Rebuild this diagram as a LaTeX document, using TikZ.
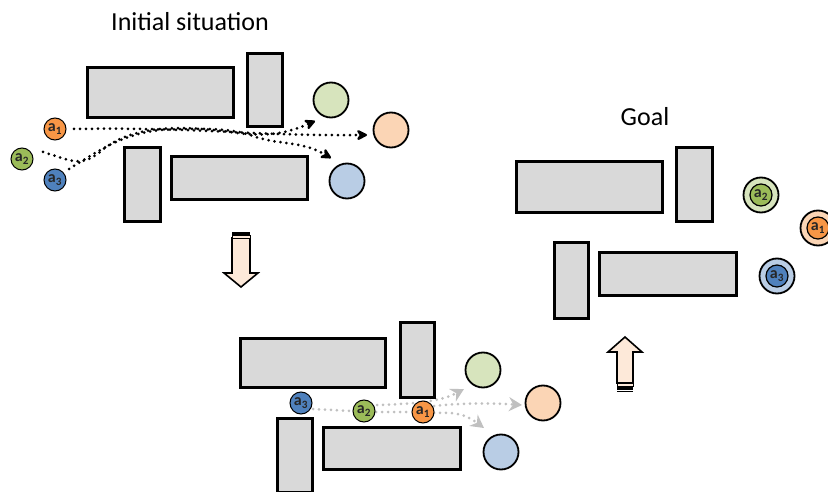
\documentclass[tikz,border=0pt]{standalone}
\usepackage{fontspec}
\setmainfont{Carlito}
\usetikzlibrary{arrows.meta}
\definecolor{boxgray}{HTML}{D9D9D9}
\definecolor{agorange}{HTML}{F79646}
\definecolor{aggreen}{HTML}{9BBB59}
\definecolor{agblue}{HTML}{4F81BD}
\definecolor{golorange}{HTML}{FBD5B5}
\definecolor{golgreen}{HTML}{D7E4BD}
\definecolor{golblue}{HTML}{B9CDE5}
\definecolor{peach}{HTML}{FDE9D9}
\definecolor{pathgray}{HTML}{C0C0C0}
\tikzset{
  obst/.style={draw=black, line width=3pt, fill=boxgray},
  goalc/.style={circle, draw=black, line width=1.8pt, minimum size=35pt, inner sep=0pt},
  agent/.style={circle, draw=black, line width=1pt, minimum size=22pt, inner sep=0pt, font=\fontsize{16}{16}\selectfont\bfseries, text=black!85},
  ring/.style={circle, draw=black, line width=1.8pt, minimum size=35pt, inner sep=0pt},
  dotstyle/.style={line width=3pt, line cap=round, dash pattern=on 0pt off 6pt},
  dotpath/.style={dotstyle, -{Stealth[length=13pt,width=13pt,line cap=butt,round=false]}},
  graypath/.style={dotstyle, draw=pathgray, -{Stealth[length=13pt,width=14pt,fill=pathgray]}},
  bigarrow/.style={draw=black, line width=1.6pt, fill=peach, line join=miter},
  title/.style={font=\fontsize{26}{26}\selectfont}
}
\begin{document}
\begin{tikzpicture}[x=1pt,y=-1pt]
\useasboundingbox (0,0) rectangle (828,492);

% ---------- Initial situation ----------
\node[title] (t1) at (190,22) {Initial situation};
\draw[obst] (87,68) rectangle (233,118);
\draw[obst] (247,54) rectangle (282,127);
\draw[obst] (124,148) rectangle (160,222);
\draw[obst] (171,157) rectangle (307,200);
\node[goalc, fill=golgreen] (g1) at (331,100) {};
\node[goalc, fill=golorange] (o1) at (391,130) {};
\node[goalc, fill=golblue] (b1) at (347,181) {};
\node[agent, fill=agorange] (a1i) at (55,129) {a\textsubscript{1}};
\node[agent, fill=aggreen] (a2i) at (22,159) {a\textsubscript{2}};
\node[agent, fill=agblue] (a3i) at (55,180) {a\textsubscript{3}};
\coordinate (ea1) at (367,135);
\coordinate (ea2) at (315,121);
\coordinate (ea3) at (331,158);
\draw[dotpath] (74,129) .. controls (200,127) and (250,136) .. (ea1);
\draw[dotpath] (43,152) .. controls (70,160) and (80,168) .. (100,152)
   .. controls (130,125) and (180,125) .. (230,132)
   .. controls (270,138) and (290,132) .. (ea2);
\draw[dotpath] (69,169) .. controls (100,150) and (120,135) .. (160,130)
   .. controls (200,128) and (230,128) .. (250,135)
   .. controls (280,146) and (300,140) .. (ea3);

% down arrow
\draw[bigarrow] (232,238) -- (250,238) -- (250,273) -- (258,273) -- (241,287) -- (224,273) -- (232,273) -- cycle;
\fill[black] (232,232) rectangle (250,234.5);
\draw[black, line width=1pt, fill=peach] (232,235.5) rectangle (250,238);

% ---------- Intermediate ----------
\draw[obst] (240,338) rectangle (385,387);
\draw[obst] (400,322) rectangle (434,397);
\draw[obst] (277,418) rectangle (312,492);
\draw[obst] (323,427) rectangle (460,469);
\node[goalc, fill=golgreen] (g2) at (483,370) {};
\node[goalc, fill=golorange] (o2) at (543,403) {};
\node[goalc, fill=golblue] (b2) at (501,452) {};
\coordinate (eg2) at (464,389);
\coordinate (eo2) at (522,405);
\coordinate (eb2) at (484,428);
\draw[dotstyle, draw=pathgray] (313,409) -- (352,411);
\draw[dotstyle, draw=pathgray] (376,412) -- (412,412);
\draw[graypath] (377,405) .. controls (410,404) and (440,402) .. (eg2);
\draw[graypath] (434,406) .. controls (460,403) and (490,403) .. (eo2);
\draw[graypath] (434,413) .. controls (455,412) and (465,414) .. (eb2);
\node[agent, fill=agblue] (a3m) at (301,403) {a\textsubscript{3}};
\node[agent, fill=aggreen] (a2m) at (364,411) {a\textsubscript{2}};
\node[agent, fill=agorange] (a1m) at (423,412) {a\textsubscript{1}};

% up arrow
\draw[bigarrow] (617,383) -- (617,352) -- (608,352) -- (625,337) -- (642,352) -- (633,352) -- (633,383) -- cycle;
\draw[black, line width=1pt, fill=peach] (617,383) rectangle (633,386);
\fill[black] (617,387) rectangle (633,390);
\draw[black, line width=1pt] (617,391.5) -- (633,391.5);

% ---------- Goal ----------
\node[title] (t2) at (645,117) {Goal};
\draw[obst] (516,162) rectangle (662,213);
\draw[obst] (676,148) rectangle (712,222);
\draw[obst] (554,242) rectangle (588,318);
\draw[obst] (599,252) rectangle (736,295);
\node[ring, fill=golgreen] (g3) at (761,195) {};
\node[ring, fill=golorange] (o3) at (818,228) {};
\node[ring, fill=golblue] (b3) at (777,276) {};
\node[agent, fill=aggreen, line width=1.2pt] (a2g) at (g3) {a\textsubscript{2}};
\node[agent, fill=agorange, line width=1.2pt] (a1g) at (o3) {a\textsubscript{1}};
\node[agent, fill=agblue, line width=1.2pt] (a3g) at (b3) {a\textsubscript{3}};
\end{tikzpicture}
\end{document}
